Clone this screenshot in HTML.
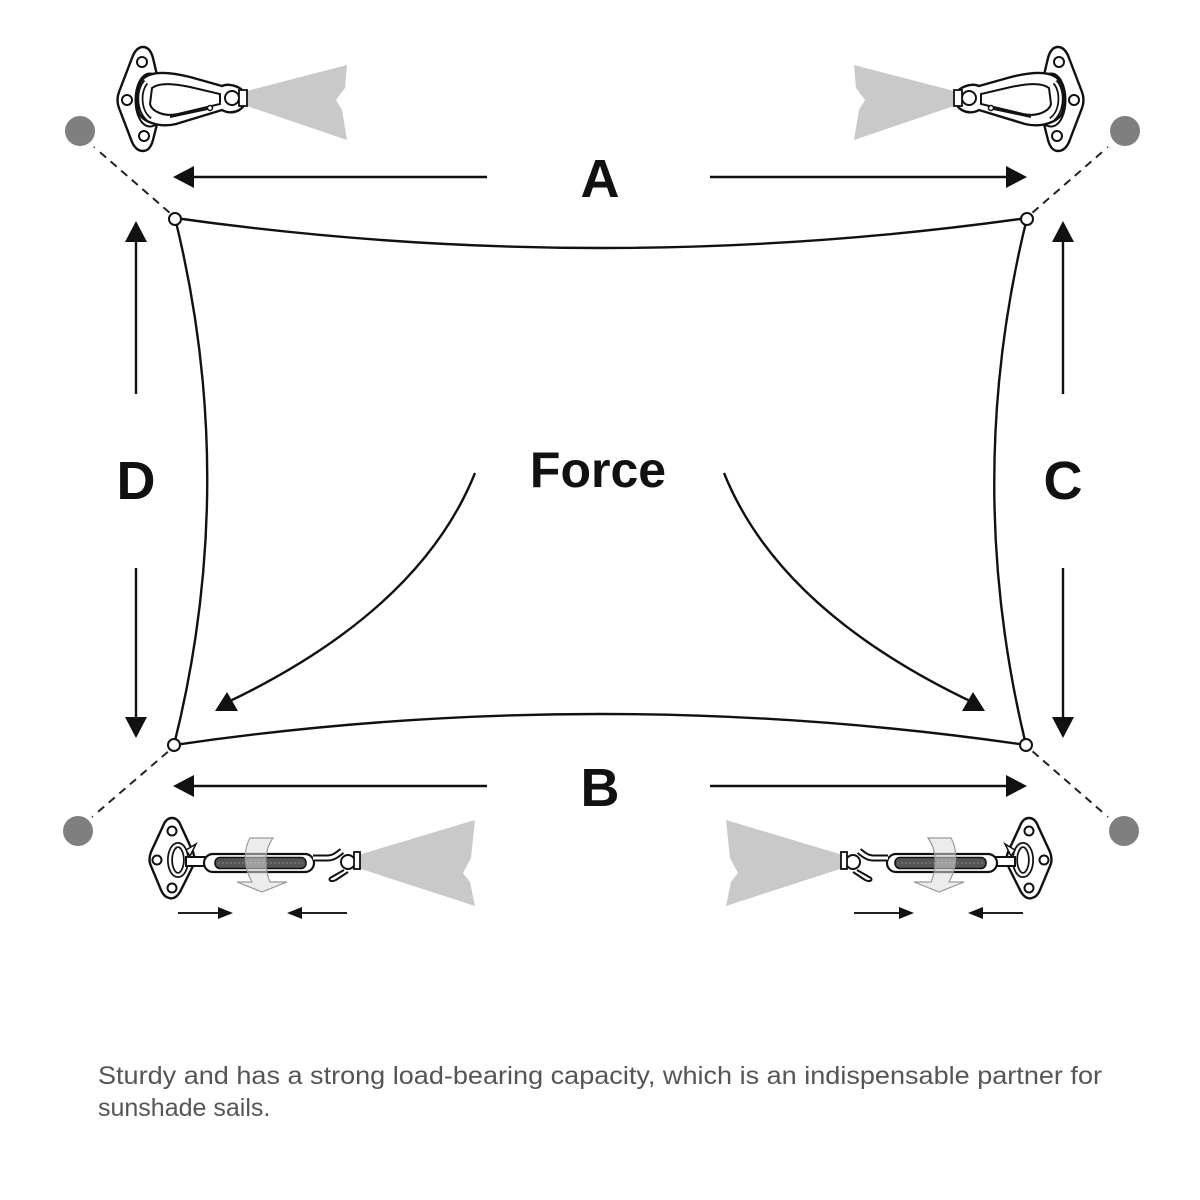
<!DOCTYPE html>
<html>
<head>
<meta charset="utf-8">
<style>
html,body{margin:0;padding:0;background:#fff;}
svg{display:block;}
</style>
</head>
<body>
<svg width="1200" height="1200" viewBox="0 0 1200 1200" xmlns="http://www.w3.org/2000/svg">
<defs>
  <g id="topHW">
    <!-- fan -->
    <polygon points="247,91 347,65 345,88 336,100 342,110 347,140 247,106" fill="#c9c9c9"/>
    <!-- plate -->
    <path d="M143,47 Q150,47 153,58 L161,92 Q163,100 161,108 L153,140 Q150,151 143,151 Q136,151 132,142 L119,108 Q116,100 119,92 L132,58 Q136,47 143,47 Z" fill="#fff" stroke="#111" stroke-width="2.4"/>
    <circle cx="142" cy="62" r="5" fill="#fff" stroke="#111" stroke-width="2"/>
    <circle cx="127" cy="100" r="5" fill="#fff" stroke="#111" stroke-width="2"/>
    <circle cx="144" cy="136" r="5" fill="#fff" stroke="#111" stroke-width="2"/>
    <!-- D ring -->
    <ellipse cx="150" cy="100" rx="12" ry="24" fill="none" stroke="#111" stroke-width="7"/>
    <ellipse cx="150" cy="100" rx="12" ry="24" fill="none" stroke="#fff" stroke-width="3"/>
    <!-- carabiner -->
    <path d="M142,80 C150,70 170,72 190,77 L222,86 C230,82 246,88 246,98 C246,110 232,116 222,110 L176,124 C160,128 140,122 138,110 C136,98 136,88 142,80 Z" fill="#fff" stroke="#111" stroke-width="2.4"/>
    <path d="M152,88 C160,82 175,84 190,87 L220,94 L220,104 L178,114 C165,117 152,112 150,104 Z" fill="#fff" stroke="#111" stroke-width="2"/>
    <line x1="170" y1="117" x2="212" y2="108" stroke="#111" stroke-width="2"/>
    <circle cx="210" cy="108" r="2.5" fill="#fff" stroke="#111" stroke-width="1.5"/>
    <circle cx="232" cy="98" r="7" fill="#fff" stroke="#111" stroke-width="2"/>
    <rect x="239" y="90" width="8" height="16" fill="#fff" stroke="#111" stroke-width="1.8"/>
    <path d="M146,82 C138,90 138,112 150,120" fill="none" stroke="#111" stroke-width="6"/>
    <path d="M146,82 C138,90 138,112 150,120" fill="none" stroke="#fff" stroke-width="2.5"/>
  </g>
  <g id="botHW">
    <!-- fan -->
    <polygon points="358,855 475,820 471,858 463,873 470,882 475,906 358,868" fill="#c9c9c9"/>
    <!-- plate -->
    <path d="M172,818 Q178,818 181,826 L193,852 Q196,860 193,866 L180,892 Q175,900 169,898 Q164,897 161,890 L151,866 Q148,860 151,852 L163,826 Q166,818 172,818 Z" fill="#fff" stroke="#111" stroke-width="2.4"/>
    <circle cx="172" cy="831" r="4.5" fill="#fff" stroke="#111" stroke-width="2"/>
    <circle cx="157" cy="860" r="4.5" fill="#fff" stroke="#111" stroke-width="2"/>
    <circle cx="172" cy="888" r="4.5" fill="#fff" stroke="#111" stroke-width="2"/>
    <!-- chain link -->
    <ellipse cx="178" cy="860" rx="8" ry="15" fill="none" stroke="#111" stroke-width="6"/>
    <ellipse cx="178" cy="860" rx="8" ry="15" fill="none" stroke="#fff" stroke-width="2.5"/>
    <path d="M186,850 L196,844 L190,856 Z" fill="#fff" stroke="#111" stroke-width="1.5"/>
    <!-- left stem -->
    <rect x="186" y="857" width="22" height="9" fill="#fff" stroke="#111" stroke-width="2"/>
    <!-- body -->
    <rect x="204" y="854" width="110" height="18" rx="9" fill="#fff" stroke="#111" stroke-width="2.2"/>
    <rect x="215" y="857.5" width="91" height="11" rx="5" fill="#555" stroke="#111" stroke-width="1.5"/>
    <line x1="218" y1="863" x2="303" y2="863" stroke="#888" stroke-width="1" stroke-dasharray="2,2"/>
    <!-- right stem and hook -->
    <path d="M313,858 L328,858 C334,858 338,854 342,851" fill="none" stroke="#111" stroke-width="7"/>
    <path d="M313,858 L328,858 C334,858 338,854 342,851" fill="none" stroke="#fff" stroke-width="3"/>
    <circle cx="348" cy="862" r="7" fill="#fff" stroke="#111" stroke-width="2"/>
    <path d="M344,870 L330,878 C328,881 332,882 336,880 L348,872" fill="#fff" stroke="#111" stroke-width="2"/>
    <rect x="354" y="852" width="6" height="17" fill="#fff" stroke="#111" stroke-width="1.8"/>
    <!-- rotation arrow -->
    <path d="M250,838 L273,838 C264,850 264,868 270,882 L287,882 L262,892 L237,882 L252,882 C244,868 243,850 250,838 Z" fill="#ddd" fill-opacity="0.55" stroke="#999" stroke-width="1.2"/>
    <!-- small arrows -->
    <line x1="178" y1="913" x2="220" y2="913" stroke="#222" stroke-width="2"/>
    <polygon points="233,913 218,907 218,919" fill="#111"/>
    <line x1="300" y1="913" x2="347" y2="913" stroke="#222" stroke-width="2"/>
    <polygon points="287,913 302,907 302,919" fill="#111"/>
  </g>
</defs>

<!-- hardware -->
<use href="#topHW"/>
<use href="#topHW" transform="translate(1201,0) scale(-1,1)"/>
<use href="#botHW"/>
<use href="#botHW" transform="translate(1201,0) scale(-1,1)"/>

<!-- gray anchor circles -->
<circle cx="80" cy="131" r="15" fill="#7f7f7f"/>
<circle cx="1125" cy="131" r="15" fill="#7f7f7f"/>
<circle cx="78" cy="831" r="15" fill="#7f7f7f"/>
<circle cx="1124" cy="831" r="15" fill="#7f7f7f"/>

<!-- dashed lines -->
<g stroke="#222" stroke-width="2" fill="none" stroke-dasharray="1,7,8,6,8,6,8,6,8,6,8,6,8,6,8,6">
  <line x1="94" y1="147" x2="170" y2="213"/>
  <line x1="1108" y1="147" x2="1032" y2="213"/>
  <line x1="92" y1="817" x2="170" y2="750"/>
  <line x1="1108" y1="817" x2="1031" y2="750"/>
</g>

<!-- sail -->
<g fill="none" stroke="#111" stroke-width="2.4">
  <path d="M175,218 Q601,278 1027,218"/>
  <path d="M174,745 Q600,683 1026,745"/>
  <path d="M175,218 Q240,481 174,745"/>
  <path d="M1027,218 Q962,481 1026,745"/>
</g>
<g fill="#fff" stroke="#111" stroke-width="2">
  <circle cx="175" cy="219" r="6"/>
  <circle cx="1027" cy="219" r="6"/>
  <circle cx="174" cy="745" r="6"/>
  <circle cx="1026" cy="745" r="6"/>
</g>

<!-- dimension arrows -->
<g stroke="#111" stroke-width="2.4">
  <line x1="190" y1="177" x2="487" y2="177"/>
  <line x1="710" y1="177" x2="1010" y2="177"/>
  <line x1="190" y1="786" x2="487" y2="786"/>
  <line x1="710" y1="786" x2="1010" y2="786"/>
  <line x1="136" y1="238" x2="136" y2="394"/>
  <line x1="136" y1="568" x2="136" y2="720"/>
  <line x1="1063" y1="238" x2="1063" y2="394"/>
  <line x1="1063" y1="568" x2="1063" y2="720"/>
</g>
<g fill="#111">
  <polygon points="173,177 194,166 194,188"/>
  <polygon points="1027,177 1006,166 1006,188"/>
  <polygon points="173,786 194,775 194,797"/>
  <polygon points="1027,786 1006,775 1006,797"/>
  <polygon points="136,221 125,242 147,242"/>
  <polygon points="136,738 125,717 147,717"/>
  <polygon points="1063,221 1052,242 1074,242"/>
  <polygon points="1063,738 1052,717 1074,717"/>
</g>

<!-- Force arrows -->
<g fill="none" stroke="#111" stroke-width="2.4">
  <path d="M475,473 Q420,610 228,702"/>
  <path d="M724,473 Q779,610 972,702"/>
</g>
<g fill="#111">
  <polygon points="215,711 238,711 227,692"/>
  <polygon points="985,711 962,711 973,692"/>
</g>

<!-- labels -->
<g font-family="'Liberation Sans', Arial, sans-serif" font-weight="bold" fill="#111" text-anchor="middle">
  <text x="600" y="197" font-size="54">A</text>
  <text x="600" y="806" font-size="54">B</text>
  <text x="136" y="499" font-size="54">D</text>
  <text x="1063" y="499" font-size="54">C</text>
  <text x="598" y="487" font-size="50">Force</text>
</g>

<g font-family="'Liberation Sans', Arial, sans-serif" fill="#555" font-size="25">
  <text x="98" y="1084" textLength="1004" lengthAdjust="spacingAndGlyphs">Sturdy and has a strong load-bearing capacity, which is an indispensable partner for</text>
  <text x="98" y="1116">sunshade sails.</text>
</g>
</svg>
</body>
</html>
